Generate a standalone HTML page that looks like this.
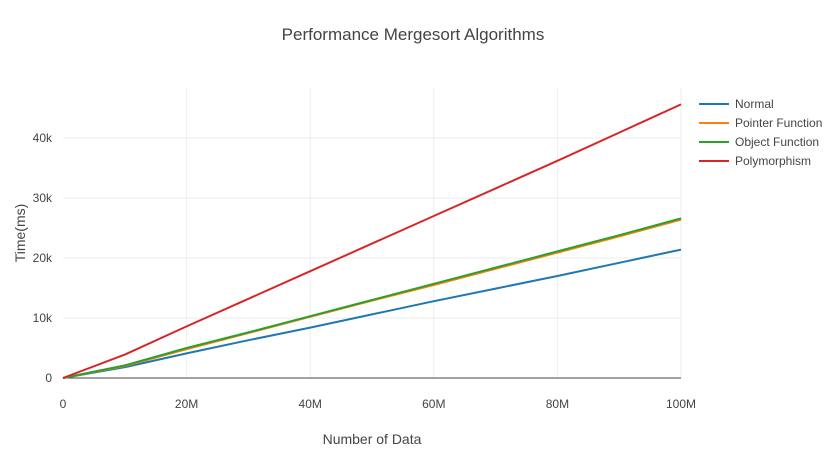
<!DOCTYPE html>
<html><head><meta charset="utf-8"><style>
body{margin:0;background:#fff}
svg text{font-family:"Liberation Sans",sans-serif;fill:#444}
</style></head><body>
<svg id="chart" width="840" height="464">
<text x="413" y="40" text-anchor="middle" font-size="17">Performance Mergesort Algorithms</text>
<g id="grid"></g><g id="lines"></g>
<text x="372" y="444" text-anchor="middle" font-size="14">Number of Data</text>
<text x="25" y="233" text-anchor="middle" font-size="14" transform="rotate(-90 25 233)">Time(ms)</text>
<g id="legend"></g>
</svg>
<script>
const xs=[0,10,20,30,40,50,60,70,80,90,100];
const seriesNames=["Normal","Pointer Function","Object Function","Polymorphism"];
const colors=["#1f77b4","#ff7f0e","#2ca02c","#d62728"];
const normal=[0,1.8,4.1,6.3,8.4,10.6,12.8,14.9,17.0,19.2,21.4];
const pointer=[0,2.0,4.8,7.5,10.2,12.9,15.5,18.2,20.9,23.6,26.4];
const objectFn=[0,2.1,5.0,7.6,10.3,13.0,15.7,18.4,21.1,23.8,26.6];
const poly=[0,3.9,8.6,13.2,17.8,22.4,27.0,31.6,36.2,40.9,45.6];
const xTicks=[0,20,40,60,80,100];
const xTickLabels=["0","20M","40M","60M","80M","100M"];
const yTicks=[0,10,20,30,40];
const yTickLabels=["0","10k","20k","30k","40k"];
const NS="http://www.w3.org/2000/svg";
const X=v=>63+v*(681-63)/100, Y=v=>378-v*6;
function mk(t,a,p){const e=document.createElementNS(NS,t);for(const k in a)e.setAttribute(k,a[k]);p.appendChild(e);return e;}
const g=document.getElementById('grid');
xTicks.forEach((t,i)=>{
 if(t>0){const l=mk('line',{x1:X(t),x2:X(t),y1:88,y2:378,stroke:'#eee'},g);
 
 }
 const tx=mk('text',{x:X(t),y:408,'text-anchor':'middle','font-size':12},g);tx.textContent=xTickLabels[i];
 
 
});
yTicks.forEach((t,i)=>{
 if(t>0){const l=mk('line',{x1:63,x2:681,y1:Y(t),y2:Y(t),stroke:'#eee'},g);
 
 }
 const tx=mk('text',{x:52,y:Y(t)+4,'text-anchor':'end','font-size':12},g);tx.textContent=yTickLabels[i];
 
 
});
const zl=mk('line',{x1:63,x2:681,y1:378,y2:378,stroke:'#444','stroke-width':1},g);


const L=document.getElementById('lines');
[normal,pointer,objectFn,poly].forEach((s,i)=>{
 const p=mk('polyline',{points:s.map((v,j)=>X(xs[j])+','+Y(v)).join(' '),fill:'none',stroke:colors[i],'stroke-width':2},L);
 
 
});
const lg=document.getElementById('legend');
seriesNames.forEach((n,i)=>{
 const y=104+i*19;
 const gr=mk('g',{},lg);
 
 
 mk('line',{x1:699,x2:729,y1:y,y2:y,stroke:colors[i],'stroke-width':2},gr);
 const t=mk('text',{x:735,y:y+4,'font-size':12},gr);t.textContent=n;
});
</script>
</body></html>
